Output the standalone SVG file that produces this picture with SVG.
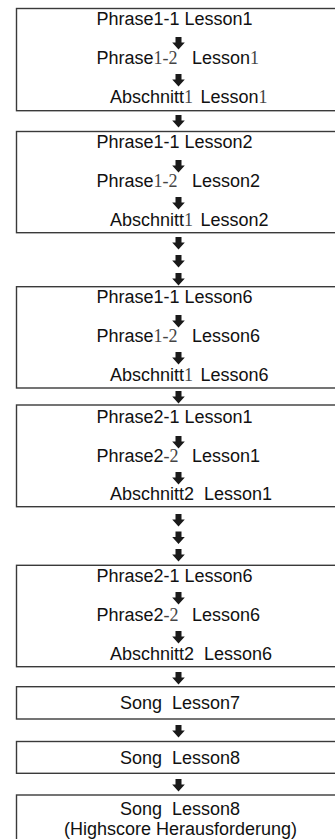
<svg xmlns="http://www.w3.org/2000/svg" xmlns:xlink="http://www.w3.org/1999/xlink" width="335" height="839" viewBox="0 0 335 839">
<style>
.box{fill:#fff;stroke:#3a3a3a;stroke-width:1.4}
text{font-family:"Liberation Sans",Arial,sans-serif;font-size:18px;fill:#111;white-space:pre}
.c{text-anchor:middle}
.m{font-family:"Liberation Serif","Times New Roman",serif;fill:#444}
.arr{fill:#1a1a1a}
</style>
<defs>
<path id="a" d="M-3,0H3V5.5H6.3L0,12.5L-6.3,5.5H-3Z"/>
</defs>
<rect width="335" height="839" fill="#fff"/>
<g id="n1">
<rect class="box" x="16.5" y="8.5" width="330" height="102.2"/>
<text x="96.5" y="25">Phrase1-1 Lesson1</text>
<text x="96.5" y="64">Phrase<tspan class="m">1-2</tspan>  <tspan x="192">Lesson</tspan><tspan class="m">1</tspan></text>
<text x="110" y="103">Abschnitt<tspan class="m">1</tspan>  <tspan x="200.5">Lesson</tspan><tspan class="m">1</tspan></text>
</g>
<g id="n2">
<rect class="box" x="16.5" y="131.5" width="330" height="101.2"/>
<text x="96.5" y="148">Phrase1-1 Lesson2</text>
<text x="96.5" y="187">Phrase<tspan class="m">1-2</tspan>  <tspan x="192">Lesson2</tspan></text>
<text x="110" y="226">Abschnitt<tspan class="m">1</tspan>  <tspan x="200.5">Lesson2</tspan></text>
</g>
<g id="n3">
<rect class="box" x="16.5" y="286.7" width="330" height="101.3"/>
<text x="96.5" y="303">Phrase1-1 Lesson6</text>
<text x="96.5" y="342">Phrase<tspan class="m">1-2</tspan>  <tspan x="192">Lesson6</tspan></text>
<text x="110" y="381">Abschnitt<tspan class="m">1</tspan>  <tspan x="200.5">Lesson6</tspan></text>
</g>
<g id="n4">
<rect class="box" x="16.5" y="405" width="330" height="101.7"/>
<text x="96.5" y="423">Phrase2-1 Lesson1</text>
<text x="96.5" y="461.5">Phrase2<tspan class="m">-2</tspan>  <tspan x="192">Lesson1</tspan></text>
<text x="110" y="500">Abschnitt2  Lesson1</text>
</g>
<g id="n5">
<rect class="box" x="16.5" y="565.3" width="330" height="101.4"/>
<text x="96.5" y="582">Phrase2-1 Lesson6</text>
<text x="96.5" y="621">Phrase2<tspan class="m">-2</tspan>  <tspan x="192">Lesson6</tspan></text>
<text x="110" y="660">Abschnitt2  Lesson6</text>
</g>
<g id="n6">
<rect class="box" x="16.5" y="686.7" width="330" height="32.3"/>
<text class="c" x="180" y="709">Song  Lesson7</text>
</g>
<g id="n7">
<rect class="box" x="16.5" y="741.5" width="330" height="31.8"/>
<text class="c" x="180" y="763.5">Song  Lesson8</text>
</g>
<g id="n8">
<rect class="box" x="16.5" y="795" width="330" height="60"/>
<text class="c" x="180" y="814.5">Song  Lesson8</text>
<text class="c" x="180.5" y="835">(Highscore Herausforderung)</text>
</g>
<g id="connectors" class="arr">
<use xlink:href="#a" x="178.5" y="37"/>
<use xlink:href="#a" x="178.5" y="74"/>
<use xlink:href="#a" x="178.5" y="115"/>
<use xlink:href="#a" x="178.5" y="160"/>
<use xlink:href="#a" x="178.5" y="197"/>
<use xlink:href="#a" x="178.5" y="237"/>
<use xlink:href="#a" x="178.5" y="255"/>
<use xlink:href="#a" x="178.5" y="273"/>
<use xlink:href="#a" x="178.5" y="315"/>
<use xlink:href="#a" x="178.5" y="352"/>
<use xlink:href="#a" x="178.5" y="391"/>
<use xlink:href="#a" x="178.5" y="436"/>
<use xlink:href="#a" x="178.5" y="472"/>
<use xlink:href="#a" x="178.5" y="514"/>
<use xlink:href="#a" x="178.5" y="531.5"/>
<use xlink:href="#a" x="178.5" y="549"/>
<use xlink:href="#a" x="178.5" y="592"/>
<use xlink:href="#a" x="178.5" y="631"/>
<use xlink:href="#a" x="178.5" y="672"/>
<use xlink:href="#a" x="178.5" y="725"/>
<use xlink:href="#a" x="178.5" y="779"/>
</g>
</svg>
